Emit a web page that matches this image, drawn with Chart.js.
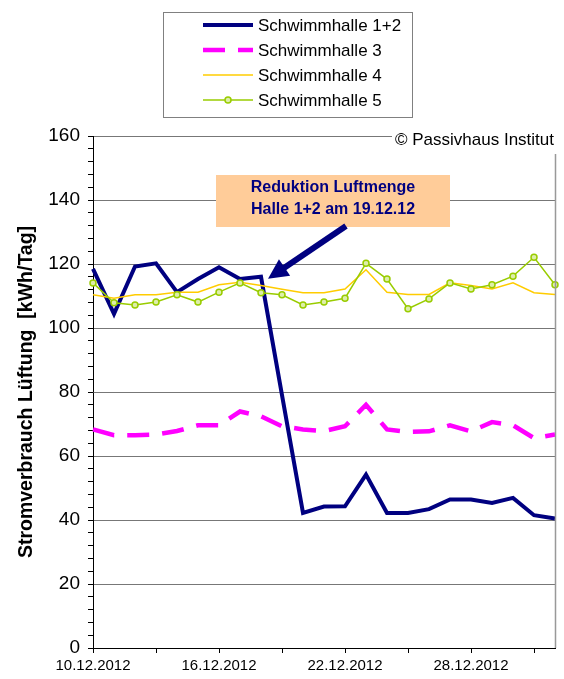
<!DOCTYPE html>
<html>
<head>
<meta charset="utf-8">
<script src="https://cdn.jsdelivr.net/npm/chart.js@4.4.0/dist/chart.umd.min.js"></script>
<style>
  html, body { margin: 0; padding: 0; background: #ffffff; }
  #wrap { width: 564px; height: 679px; position: relative; }
</style>
</head>
<body>
<div id="wrap"><canvas id="c" width="564" height="679"></canvas></div>
<script>
const dates = ["10.12.2012","11.12.2012","12.12.2012","13.12.2012","14.12.2012","15.12.2012","16.12.2012",
  "17.12.2012","18.12.2012","19.12.2012","20.12.2012","21.12.2012","22.12.2012","23.12.2012","24.12.2012",
  "25.12.2012","26.12.2012","27.12.2012","28.12.2012","29.12.2012","30.12.2012","31.12.2012","01.01.2013"];
const seriesNames = ["Schwimmhalle 1+2","Schwimmhalle 3","Schwimmhalle 4","Schwimmhalle 5"];
const halle12 = [118.5,104.4,119.2,120.2,111.2,115.3,119.0,115.3,116.0,79.0,42.2,44.2,44.3,54.2,42.2,42.2,43.4,46.4,46.4,45.3,46.9,41.5,40.5];
const halle3  = [68.3,66.5,66.5,66.7,67.8,69.6,69.6,73.9,72.4,69.3,68.3,67.8,69.3,76.0,68.3,67.5,67.7,69.6,67.7,70.6,69.6,65.6,66.7];
const halle4  = [110.4,109.3,110.4,110.4,111.2,111.2,113.5,114.3,113.3,112.1,111.0,111.0,112.2,118.2,111.2,110.5,110.5,114.1,113.3,112.2,114.1,111.0,110.5];
const halle5  = [114.1,107.9,107.2,108.1,110.4,108.1,111.2,114.1,111.0,110.4,107.2,108.1,109.3,120.2,115.3,106.0,109.1,114.1,112.2,113.5,116.2,122.1,113.5];
const yTitle = "Stromverbrauch Lüftung  [kWh/Tag]";
const annotationLines = ["Reduktion Luftmenge","Halle 1+2 am 19.12.12"];
const copyright = "© Passivhaus Institut";

const extras = {
  id: 'extras',
  afterDraw(chart) {
    const ctx = chart.ctx;
    const ca = chart.chartArea;
    const xs = chart.scales.x, ys = chart.scales.y;
    ctx.save();
    // right border
    ctx.strokeStyle = '#999999';
    ctx.lineWidth = 1.5;
    ctx.beginPath();
    ctx.moveTo(ca.right + 0.5, ca.top);
    ctx.lineTo(ca.right + 0.5, ca.bottom);
    ctx.stroke();

    // copyright with white background
    ctx.fillStyle = '#ffffff';
    ctx.fillRect(392, 128, 172, 26);
    ctx.fillStyle = '#000000';
    ctx.font = '17px Arial, "Liberation Sans", sans-serif';
    ctx.textAlign = 'left';
    ctx.textBaseline = 'middle';
    ctx.fillText(copyright, 395, 140);

    // annotation box
    const bx = 216, by = 175, bw = 234, bh = 52;
    ctx.fillStyle = '#FFCC99';
    ctx.fillRect(bx, by, bw, bh);
    ctx.fillStyle = '#000080';
    ctx.font = 'bold 16px Arial, "Liberation Sans", sans-serif';
    ctx.textAlign = 'center';
    ctx.fillText(annotationLines[0], bx + bw / 2, 188);
    ctx.fillText(annotationLines[1], bx + bw / 2, 210);

    // arrow from box to the reduction point
    const tipX = xs.getPixelForValue(8) + 7;
    const tipY = ys.getPixelForValue(116) + 2;
    const sx = 346, sy = 226;
    const ang = Math.atan2(tipY - sy, tipX - sx);
    const headLen = 20, headW = 10;
    const baseX = tipX - headLen * Math.cos(ang), baseY = tipY - headLen * Math.sin(ang);
    ctx.strokeStyle = '#000080';
    ctx.lineWidth = 6;
    ctx.beginPath();
    ctx.moveTo(sx, sy);
    ctx.lineTo(baseX + 3 * Math.cos(ang), baseY + 3 * Math.sin(ang));
    ctx.stroke();
    ctx.fillStyle = '#000080';
    ctx.beginPath();
    ctx.moveTo(tipX, tipY);
    ctx.lineTo(baseX + headW * Math.sin(ang), baseY - headW * Math.cos(ang));
    ctx.lineTo(baseX - headW * Math.sin(ang), baseY + headW * Math.cos(ang));
    ctx.closePath();
    ctx.fill();

    // legend
    const lx = 163.5, ly = 12.5, lw = 249, lh = 105;
    ctx.fillStyle = '#ffffff';
    ctx.fillRect(lx, ly, lw, lh);
    ctx.strokeStyle = '#808080';
    ctx.lineWidth = 1;
    ctx.strokeRect(lx, ly, lw, lh);
    const rows = [25, 50, 75, 100];
    chart.data.datasets.forEach((ds, i) => {
      const y = rows[i];
      ctx.save();
      ctx.strokeStyle = ds.borderColor;
      ctx.lineWidth = ds.borderWidth;
      ctx.setLineDash(ds.borderDash || []);
      ctx.beginPath();
      ctx.moveTo(203, y);
      ctx.lineTo(253, y);
      ctx.stroke();
      ctx.setLineDash([]);
      if (ds.pointRadius > 0) {
        ctx.fillStyle = ds.pointBackgroundColor;
        ctx.strokeStyle = ds.pointBorderColor;
        ctx.lineWidth = ds.pointBorderWidth;
        ctx.beginPath();
        ctx.arc(228, y, ds.pointRadius, 0, Math.PI * 2);
        ctx.fill();
        ctx.stroke();
      }
      ctx.restore();
      ctx.fillStyle = '#000000';
      ctx.font = '17px Arial, "Liberation Sans", sans-serif';
      ctx.textAlign = 'left';
      ctx.textBaseline = 'middle';
      ctx.fillText(ds.label, 258, y + 1);
    });
    ctx.restore();
  }
};

new Chart(document.getElementById('c'), {
  type: 'line',
  data: {
    labels: dates,
    datasets: [
      { label: seriesNames[0], data: halle12, borderColor: '#000080', borderWidth: 4, pointRadius: 0, tension: 0, order: 4 },
      { label: seriesNames[1], data: halle3, borderColor: '#FF00FF', borderWidth: 4.5, borderDash: [22, 13], pointRadius: 0, tension: 0, order: 3 },
      { label: seriesNames[2], data: halle4, borderColor: '#FFCC00', borderWidth: 1.5, pointRadius: 0, tension: 0, order: 2 },
      { label: seriesNames[3], data: halle5, borderColor: '#99CC00', borderWidth: 1.5, pointRadius: 3,
        pointBackgroundColor: '#DDEEAA', pointBorderColor: '#99CC00', pointBorderWidth: 1.5, pointStyle: 'circle', tension: 0, order: 1 }
    ]
  },
  options: {
    responsive: false,
    animation: false,
    devicePixelRatio: 1,
    layout: { padding: { top: 136, right: 9, left: 0, bottom: 0 } },
    plugins: { legend: { display: false }, tooltip: { enabled: false } },
    scales: {
      x: {
        offset: false,
        afterFit: s => { s.height = 31; },
        border: { color: '#000000', width: 1 },
        grid: {
          drawOnChartArea: false, drawTicks: true, tickLength: 5,
          tickColor: c => (c.index % 3 === 0 ? '#000000' : 'rgba(0,0,0,0)')
        },
        ticks: {
          autoSkip: false, maxRotation: 0, minRotation: 0, padding: 4,
          color: '#000000',
          font: { family: 'Arial, "Liberation Sans", sans-serif', size: 15 },
          callback: function(v, i) { return i % 6 === 0 ? dates[i] : ''; }
        }
      },
      y: {
        min: 0, max: 160,
        afterFit: s => { s.width = 93; },
        border: { color: '#000000', width: 1 },
        grid: {
          color: c => (c.tick && c.tick.value % 20 === 0 ? '#777777' : 'rgba(0,0,0,0)'),
          lineWidth: 1,
          tickColor: '#000000', tickLength: 5
        },
        ticks: {
          stepSize: 4, autoSkip: false, padding: 8, color: '#000000',
          font: { family: 'Arial, "Liberation Sans", sans-serif', size: 19 },
          callback: v => (v % 20 === 0 ? String(v) : '')
        },
        title: {
          display: true, text: yTitle, color: '#000000',
          font: { family: 'Arial, "Liberation Sans", sans-serif', size: 19.5, weight: 'bold' },
          padding: { top: 15, bottom: 0 }
        }
      }
    }
  },
  plugins: [extras]
});
</script>
</body>
</html>
